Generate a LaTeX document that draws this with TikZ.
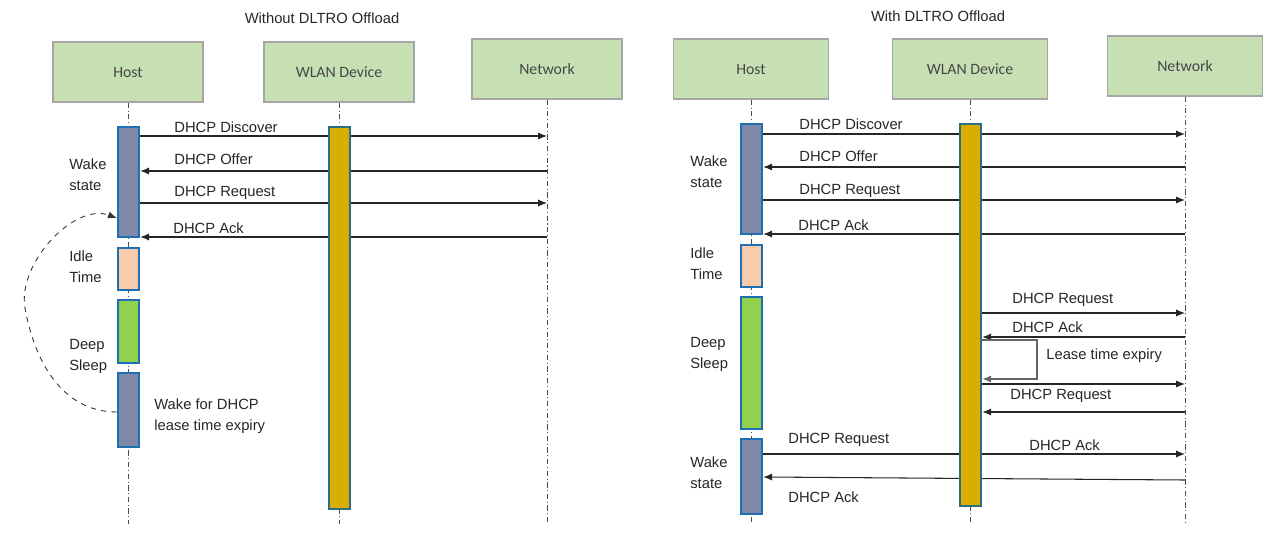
\documentclass[tikz,border=0pt]{standalone}
\usepackage{fontspec}
\setmainfont{Liberation Sans}
\newfontfamily\boxfont{Carlito}
\usetikzlibrary{arrows.meta,fit,backgrounds}
\definecolor{actorfill}{HTML}{C6E0B4}
\definecolor{actorline}{HTML}{A6A6A6}
\definecolor{wakefill}{HTML}{8088A8}
\definecolor{idlefill}{HTML}{F8CBAD}
\definecolor{sleepfill}{HTML}{92D050}
\definecolor{barline}{HTML}{1F6FB2}
\definecolor{wlanfill}{HTML}{D9AE00}
\definecolor{wlanline}{HTML}{2B6F80}
\definecolor{txt}{HTML}{262626}
\tikzset{
  actor/.style={draw=actorline, fill=actorfill, line width=0.7pt, minimum width=3cm,
    minimum height=1.2cm, font=\boxfont\fontsize{9}{11}\selectfont, text=txt!85!white},
  life/.style={draw=black!70, line width=0.4pt, dash pattern=on 3pt off 1.5pt on 0.6pt off 1.5pt},
  bar/.style={draw=barline, line width=1.4pt, inner sep=0pt},
  wake/.style={bar, fill=wakefill},
  idle/.style={bar, fill=idlefill},
  sleep/.style={bar, fill=sleepfill},
  wlanbar/.style={draw=wlanline, line width=1.4pt, fill=wlanfill, inner sep=0pt},
  msg/.style={draw=black!85, line width=0.6pt, -{Latex[length=5pt,width=4pt]}},
  selfmsg/.style={draw=black!60, line width=0.8pt, -{Latex[length=5pt,width=4pt]}},
  curvemsg/.style={draw=black!80, line width=0.5pt, dashed, -{Latex[length=5pt,width=4pt]}},
  lbl/.style={anchor=west, inner sep=0pt, text=txt, font=\fontsize{8.4}{12}\selectfont},
  statelbl/.style={lbl, align=left},
  title/.style={inner sep=0pt, text=txt, font=\fontsize{8.4}{12}\selectfont}
}
\begin{document}
\begin{tikzpicture}[x=0.02cm, y=-0.02cm]
\useasboundingbox (0,0) rectangle (1283,550);
% titles
\node[title] (titleA) at (322,18) {Without DLTRO Offload};
\node[title] (titleB) at (938,16) {With DLTRO Offload};
% actors
\node[actor] (hostA) at (128,72) {Host};
\node[actor] (wlanA) at (339,72) {WLAN Device};
\node[actor] (netA) at (547,69) {Network};
\node[actor, minimum width=3.1cm] (hostB) at (751,69) {Host};
\node[actor, minimum width=3.1cm] (wlanB) at (970,69) {WLAN Device};
\node[actor, minimum width=3.1cm] (netB) at (1185,66) {Network};
% lifelines
\foreach \a in {hostA,wlanA,netA,hostB,wlanB,netB}
  \draw[life] (\a.south) -- (\a.south |- 0,524);
% host bars, left
\node[wake, fit={(118,127) (139,237)}] (hA1) {};
\node[idle, fit={(118,248) (139,290)}] (hA2) {};
\node[sleep, fit={(118,300) (139,363)}] (hA3) {};
\node[wake, fit={(118,373) (139,447)}] (hA4) {};
\node[wlanbar, fit={(329,127) (350,509)}] (wA) {};
% host bars, right
\node[wake, fit={(741,124) (762,234)}] (hB1) {};
\node[idle, fit={(741,245) (762,287)}] (hB2) {};
\node[sleep, fit={(741,297) (762,429)}] (hB3) {};
\node[wake, fit={(741,439) (762,514)}] (hB4) {};
\node[wlanbar, fit={(960,124) (981,506)}] (wB) {};
% messages passing behind the WLAN bars
\begin{scope}[on background layer]
\draw[msg] (hA1.east |- 0,136) -- (netA |- 0,136);
\draw[msg] (netA |- 0,171) -- (hA1.east |- 0,171);
\draw[msg] (hA1.east |- 0,203) -- (netA |- 0,203);
\draw[msg] (netA |- 0,237) -- (hA1.east |- 0,237);
\draw[msg] (hB1.east |- 0,134) -- (netB |- 0,134);
\draw[msg] (netB |- 0,167) -- (hB1.east |- 0,167);
\draw[msg] (hB1.east |- 0,200) -- (netB |- 0,200);
\draw[msg] (netB |- 0,234) -- (hB1.east |- 0,234);
\draw[msg] (hB4.east |- 0,454) -- (netB |- 0,454);
\draw[msg] (netB |- 0,480) -- (hB4.east |- 0,477);
\end{scope}
% offloaded renewal
\draw[msg] (wB.east |- 0,313) -- (netB |- 0,313);
\draw[msg] (netB |- 0,337) -- (wB.east |- 0,337);
\coordinate (loopR) at (1037,379);
\draw[selfmsg] (wB.east |- 0,340) -| (loopR) -- (wB.east |- loopR);
\draw[msg] (wB.east |- 0,384) -- (netB |- 0,384);
\draw[msg] (netB |- 0,412) -- (wB.east |- 0,412);
% wake-up loop
\coordinate (bend) at (25,308);
\draw[curvemsg] (hA4.west |- 0,412) to[out=180, in=-80] (bend)
  to[out=100, in=160, looseness=0.9] (hA1.west |- 0,218);
% labels, left
\node[lbl] (mA1) at (174,127) {DHCP Discover};
\node[lbl] (mA2) at (174,159) {DHCP Offer};
\node[lbl] (mA3) at (174,193) {DHCP Request};
\node[lbl] (mA4) at (173,228) {DHCP Ack};
\node[statelbl] (sA1) at (69,175) {Wake\\state};
\node[statelbl] (sA2) at (69,267) {Idle\\Time};
\node[statelbl] (sA3) at (69,356) {Deep\\Sleep};
\node[statelbl] (sA4) at (154,416) {Wake for DHCP\\lease time expiry};
% labels, right
\node[lbl] (mB1) at (799,124) {DHCP Discover};
\node[lbl] (mB2) at (799,156) {DHCP Offer};
\node[lbl] (mB3) at (799,191) {DHCP Request};
\node[lbl] (mB4) at (798,225) {DHCP Ack};
\node[lbl] (mB5) at (1012,300) {DHCP Request};
\node[lbl] (mB6) at (1012,327) {DHCP Ack};
\node[lbl] (mB7) at (1046,356) {Lease time expiry};
\node[lbl] (mB8) at (1010,396) {DHCP Request};
\node[lbl] (mB9) at (788,440) {DHCP Request};
\node[lbl] (mB10) at (1029,445) {DHCP Ack};
\node[lbl] (mB11) at (788,497) {DHCP Ack};
\node[statelbl] (sB1) at (690,172) {Wake\\state};
\node[statelbl] (sB2) at (690,264) {Idle\\Time};
\node[statelbl] (sB3) at (690,354) {Deep\\Sleep};
\node[statelbl] (sB4) at (690,473) {Wake\\state};
\end{tikzpicture}
\end{document}
